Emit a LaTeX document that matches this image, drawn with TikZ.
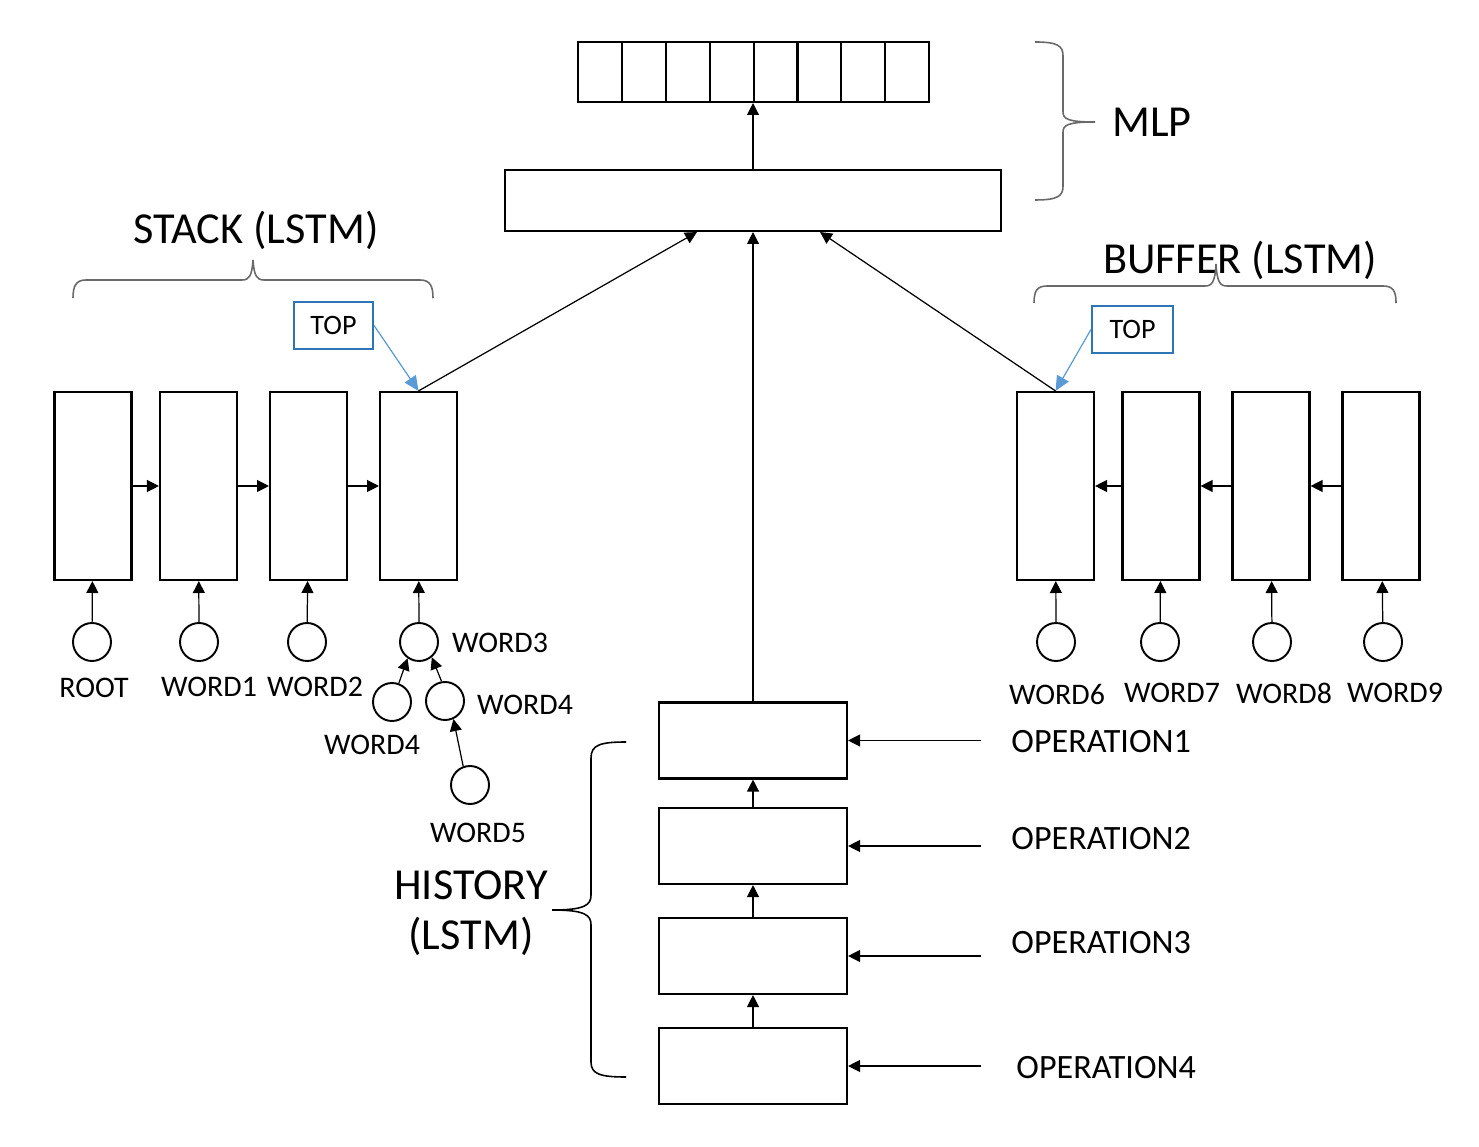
\documentclass[tikz,border=0pt]{standalone}
\usepackage{fontspec}
\setmainfont{Carlito}
\usetikzlibrary{arrows.meta, calc}
\definecolor{topblue}{RGB}{46,117,182}
\definecolor{toparrow}{RGB}{91,155,213}
\definecolor{bracegray}{RGB}{105,105,105}

\begin{document}
\begin{tikzpicture}[
  lstm/.style={draw, line width=0.6pt, minimum width=0.77cm, minimum height=1.88cm, inner sep=0pt},
  hbox/.style={draw, line width=0.6pt, minimum width=1.88cm, minimum height=0.76cm, inner sep=0pt},
  cell/.style={draw, line width=0.6pt, minimum width=0.439cm, minimum height=0.60cm, inner sep=0pt},
  word/.style={circle, draw, line width=0.55pt, minimum size=0.38cm, inner sep=0pt},
  topbox/.style={draw=topblue, line width=0.6pt, minimum height=0.47cm, inner sep=0pt, font=\fontsize{8}{9}\selectfont},
  arr/.style={-{Triangle[length=3.4pt,width=3.4pt]}, line width=0.35pt},
  toparr/.style={-{Triangle[length=4.2pt,width=3.8pt]}, toparrow, line width=0.35pt},
  lbl/.style={font=\fontsize{8.5}{10}\selectfont},
  oplbl/.style={font=\fontsize{9.7}{11}\selectfont, anchor=west},
  big/.style={font=\fontsize{12.6}{14.2}\selectfont},
  brc/.style={draw=bracegray, line width=0.45pt}
]
\useasboundingbox (0,0) rectangle (14.79,-11.47);

% Output layer and hidden layer (MLP)
\foreach \i in {1,...,8}
  \node[cell] (out\i) at ({5.78+0.439*(\i-0.5)},-0.72) {};
\node[draw, line width=0.6pt, minimum width=4.96cm, minimum height=0.61cm, inner sep=0pt] (hidden) at (7.53,-2.005) {};
\draw[arr] (hidden.north) -- (hidden.north |- out5.south);

\draw[brc] (10.35,-0.42) .. controls (10.58,-0.42) and (10.63,-0.46) .. (10.63,-0.56)
  -- (10.63,-1.12) .. controls (10.63,-1.19) and (10.68,-1.22) .. (10.95,-1.22)
  .. controls (10.68,-1.22) and (10.63,-1.25) .. (10.63,-1.32)
  -- (10.63,-1.86) .. controls (10.63,-1.96) and (10.58,-2.00) .. (10.35,-2.00);
\node[big, anchor=west] (mlp) at (11.00,-1.22) {MLP};

% Stack
\node[big] (stacklbl) at (2.56,-2.30) {STACK (LSTM)};
\draw[brc] (0.73,-2.98) .. controls (0.73,-2.86) and (0.76,-2.80) .. (0.86,-2.80)
  -- (2.42,-2.80) .. controls (2.49,-2.80) and (2.52,-2.76) .. (2.53,-2.60)
  .. controls (2.54,-2.76) and (2.57,-2.80) .. (2.64,-2.80)
  -- (4.20,-2.80) .. controls (4.30,-2.80) and (4.33,-2.86) .. (4.33,-2.98);
\foreach \x [count=\i] in {0.93,1.985,3.085,4.185}
  \node[lstm] (s\i) at (\x,-4.86) {};
\foreach \i/\j in {1/2,2/3,3/4}
  \draw[arr] (s\i) -- (s\j);

\node[topbox, minimum width=0.79cm] (stop) at (3.335,-3.255) {TOP};
\draw[toparr] (stop.east) -- (s4.north);

% Stack words
\node[word] (c1) at (0.92,-6.42) {};
\node[word] (c2) at (1.99,-6.42) {};
\node[word] (c3) at (3.07,-6.42) {};
\node[word] (c4) at (4.19,-6.42) {};
\foreach \i in {1,...,4}
  \draw[arr] (c\i) -- (s\i);
\node[word] (c5) at (3.92,-7.02) {};
\node[word] (c6) at (4.45,-7.01) {};
\node[word] (c7) at (4.70,-7.85) {};
\draw[arr] (c5.70) -- (c4.235);
\draw[arr] (c6.100) -- (c4.310);
\draw[arr] (c7.110) -- (c6.295);

\node[lbl] (l1) at (0.94,-6.88) {ROOT};
\node[lbl] (l2) at (2.09,-6.87) {WORD1};
\node[lbl] (l3) at (3.15,-6.87) {WORD2};
\node[lbl] (l4) at (5.00,-6.43) {WORD3};
\node[lbl] (l5) at (3.72,-7.45) {WORD4};
\node[lbl] (l6) at (5.25,-7.05) {WORD4};
\node[lbl] (l7) at (4.78,-8.33) {WORD5};

% Buffer
\node[big] (buflbl) at (12.40,-2.60) {BUFFER (LSTM)};
\draw[brc] (10.34,-3.03) .. controls (10.34,-2.91) and (10.37,-2.86) .. (10.47,-2.86)
  -- (12.05,-2.86) .. controls (12.12,-2.86) and (12.15,-2.82) .. (12.16,-2.64)
  .. controls (12.17,-2.82) and (12.20,-2.86) .. (12.27,-2.86)
  -- (13.83,-2.86) .. controls (13.93,-2.86) and (13.96,-2.91) .. (13.96,-3.03);
\foreach \x [count=\i] in {10.555,11.61,12.71,13.81}
  \node[lstm] (b\i) at (\x,-4.86) {};
\foreach \i/\j in {2/1,3/2,4/3}
  \draw[arr] (b\i) -- (b\j);

\node[topbox, minimum width=0.81cm] (btop) at (11.325,-3.295) {TOP};
\draw[toparr] (btop.west) -- (b1.north);

% Buffer words
\foreach \x [count=\i] in {10.56,11.60,12.72,13.83}
  \node[word] (d\i) at (\x,-6.42) {};
\foreach \i in {1,...,4}
  \draw[arr] (d\i) -- (b\i);
\node[lbl] (l8) at (10.57,-6.95) {WORD6};
\node[lbl] (l9) at (11.72,-6.93) {WORD7};
\node[lbl] (l10) at (12.84,-6.93) {WORD8};
\node[lbl] (l11) at (13.95,-6.93) {WORD9};

% History
\foreach \y [count=\i] in {-7.405,-8.46,-9.56,-10.66}
  \node[hbox] (h\i) at (7.53,\y) {};
\foreach \i/\j in {2/1,3/2,4/3}
  \draw[arr] (h\i) -- (h\j);
\foreach \i in {1,...,4}
  \draw[arr] ($(h\i.east)+(1.33,0)$) -- (h\i.east);

\node[oplbl] (op1) at (9.99,-7.42) {OPERATION1};
\node[oplbl] (op2) at (9.99,-8.39) {OPERATION2};
\node[oplbl] (op3) at (9.99,-9.43) {OPERATION3};
\node[oplbl] (op4) at (10.04,-10.68) {OPERATION4};

\draw[line width=0.45pt] (6.26,-7.42) .. controls (6.00,-7.42) and (5.91,-7.45) .. (5.91,-7.58)
  -- (5.91,-8.95) .. controls (5.91,-9.05) and (5.85,-9.10) .. (5.52,-9.10)
  .. controls (5.85,-9.10) and (5.91,-9.15) .. (5.91,-9.25)
  -- (5.91,-10.62) .. controls (5.91,-10.74) and (6.00,-10.77) .. (6.26,-10.77);
\node[big, align=center] (histlbl) at (4.71,-9.13) {HISTORY\\(LSTM)};

% Inputs to the hidden layer
\draw[arr] (s4.north) -- ($(hidden.south)+(-0.56,0)$);
\draw[arr] (b1.north) -- ($(hidden.south)+(0.67,0)$);
\draw[arr] (h1) -- (hidden);
\end{tikzpicture}
\end{document}
